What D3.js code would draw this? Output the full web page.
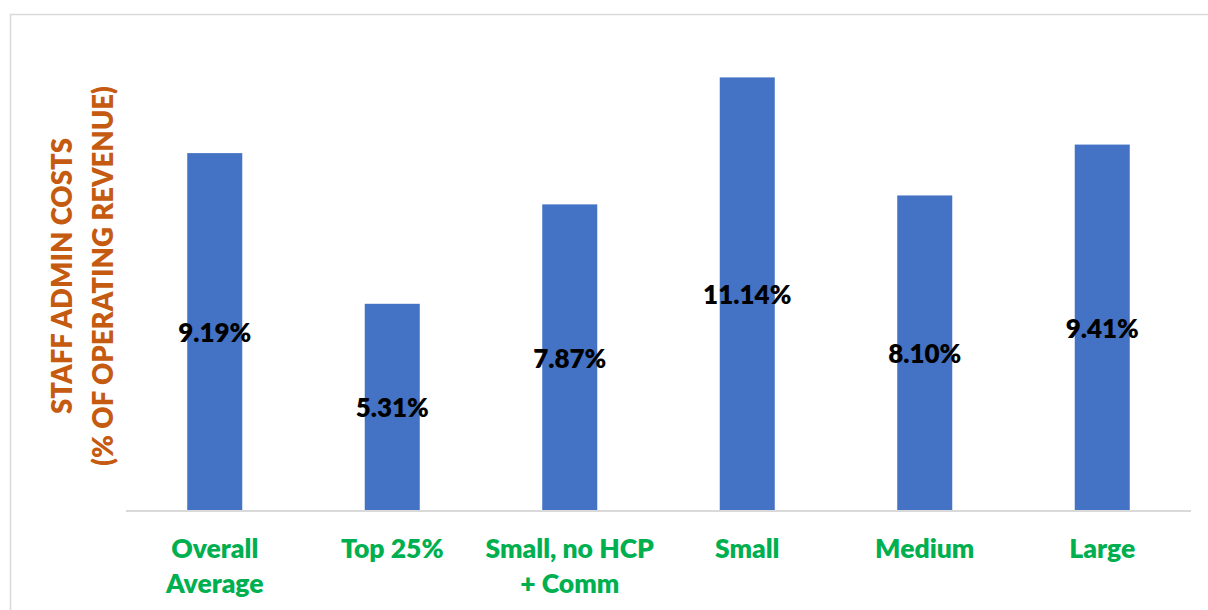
<!DOCTYPE html>
<html>
<head>
<meta charset="utf-8">
<script src="https://cdn.jsdelivr.net/npm/d3@7"></script>
<style>
  html, body { margin: 0; padding: 0; background: #fff; }
  svg { display: block; }
</style>
</head>
<body>
<svg id="chart" width="1208" height="610"></svg>
<script>
// Staff admin costs as a share of operating revenue, by peer group
const categories = [
  ["Overall", "Average"],
  ["Top 25%"],
  ["Small, no HCP", "+ Comm"],
  ["Small"],
  ["Medium"],
  ["Large"]
];
const values = [9.19, 5.31, 7.87, 11.14, 8.10, 9.41];
const valueLabels = ["9.19%", "5.31%", "7.87%", "11.14%", "8.10%", "9.41%"];
const yTitle = ["STAFF ADMIN COSTS", "(% OF OPERATING REVENUE)"];

const FONT = "Lato, 'Open Sans', sans-serif";
const WEIGHT = 800;
const svg = d3.select("#chart");

// outer frame
svg.append("rect")
  .attr("x", 10.5).attr("y", 14.5)
  .attr("width", 1300).attr("height", 700)
  .attr("fill", "none")
  .attr("stroke", "#d9d9d9")
  .attr("stroke-width", 1.5);

const left = 126, right = 1191, baseY = 510, topY = 44;

const x = d3.scaleBand()
  .domain(d3.range(categories.length))
  .range([left, right])
  .paddingInner(0.69)
  .paddingOuter(0.345);

const y = d3.scaleLinear().domain([0, 12]).range([baseY, topY]);

// bars
svg.append("g").selectAll("rect")
  .data(values)
  .join("rect")
  .attr("x", (d, i) => x(i))
  .attr("y", d => y(d))
  .attr("width", x.bandwidth())
  .attr("height", d => y(0) - y(d))
  .attr("fill", "#4472C4");

// category axis line
svg.append("line")
  .attr("x1", left).attr("x2", right)
  .attr("y1", baseY + 1).attr("y2", baseY + 1)
  .attr("stroke", "#d9d9d9")
  .attr("stroke-width", 2);

// value labels centred in each bar
svg.append("g").selectAll("text")
  .data(values)
  .join("text")
  .attr("x", (d, i) => x(i) + x.bandwidth() / 2)
  .attr("y", d => (y(d) + y(0)) / 2 + 10.5)
  .attr("text-anchor", "middle")
  .attr("font-family", FONT)
  .attr("font-weight", WEIGHT)
  .attr("font-size", 26)
  .attr("fill", "#000")
  .text((d, i) => valueLabels[i]);

// category labels
const cat = svg.append("g").selectAll("text")
  .data(categories)
  .join("text")
  .attr("x", (d, i) => x(i) + x.bandwidth() / 2)
  .attr("y", 558)
  .attr("text-anchor", "middle")
  .attr("font-family", FONT)
  .attr("font-weight", WEIGHT)
  .attr("font-size", 26.5)
  .attr("fill", "#00B050");
cat.each(function (lines, i) {
  d3.select(this).selectAll("tspan")
    .data(lines)
    .join("tspan")
    .attr("x", x(i) + x.bandwidth() / 2)
    .attr("dy", (l, j) => j === 0 ? 0 : 35)
    .text(l => l);
});

// rotated axis title
const titleG = svg.append("g")
  .attr("transform", "translate(0,276) rotate(-90)");
titleG.selectAll("text")
  .data(yTitle)
  .join("text")
  .attr("x", 0)
  .attr("y", (d, i) => 72 + i * 41)
  .attr("text-anchor", "middle")
  .attr("font-family", FONT)
  .attr("font-weight", WEIGHT)
  .attr("font-size", 27.5)
  .attr("fill", "#C55A11")
  .text(d => d);
</script>
</body>
</html>
